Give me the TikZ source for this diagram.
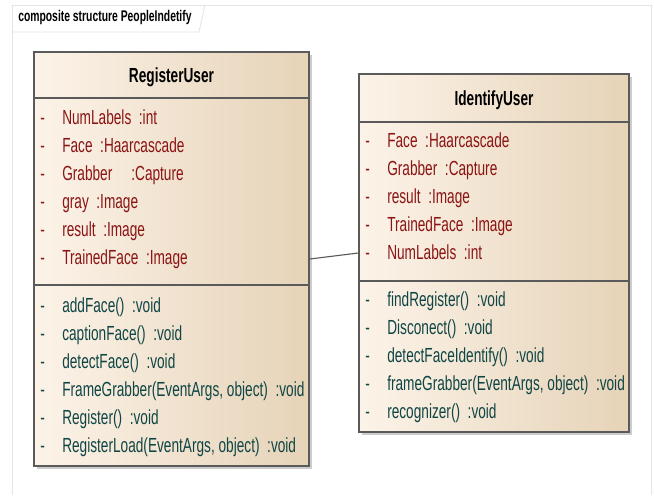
\documentclass[tikz,border=0pt]{standalone}
\usepackage{fontspec}
\setmainfont{Liberation Sans}[FakeStretch=0.67]
\usetikzlibrary{positioning,shadows}

\definecolor{attrred}{HTML}{8B1414}
\definecolor{methteal}{HTML}{0F4545}
\definecolor{fillleft}{HTML}{FCF3E8}
\definecolor{fillright}{HTML}{E6D3B8}
\definecolor{boxline}{HTML}{5A5A5A}
\definecolor{framegray}{HTML}{E4E4E4}

\tikzstyle{frameline} = [draw=framegray, line width=0.6pt]
\tikzstyle{frametitle} = [anchor=west, inner sep=0pt, font=\bfseries\fontsize{11}{13}\selectfont]
\tikzstyle{classbox} = [draw=boxline, line width=1pt, rectangle, left color=fillleft, right color=fillright, drop shadow={shadow xshift=2pt, shadow yshift=-2pt, opacity=0.4}]
\tikzstyle{classname} = [inner sep=0pt, font=\bfseries\fontsize{14.5}{17}\selectfont]
\tikzstyle{sepline} = [draw=boxline, line width=1pt]
\tikzstyle{attr} = [inner sep=0pt, text height=1.6ex, text depth=0.45ex, text=attrred, font=\fontsize{14.5}{17}\selectfont]
\tikzstyle{meth} = [attr, text=methteal]
\tikzstyle{link} = [draw=boxline, line width=0.8pt]

\newcommand{\priv}{\makebox[0.55cm][l]{-}}

\begin{document}
\begin{tikzpicture}
  \useasboundingbox (0,0) rectangle (16.35,-12.375);
  % frame
  \draw[frameline] (0.3,-12.375) -- (0.3,-0.125) -- (16.275,-0.125) -- (16.275,-12.375);
  \draw[frameline] (0.3,-0.8) -- (4.975,-0.8) -- (5.125,-0.125);
  \node[frametitle] (frm) at (0.45,-0.425) {composite structure PeopleIndetify};

  % RegisterUser
  \node[classbox, minimum width=6.875cm, minimum height=10.35cm] (reg) at (4.2875,-6.475) {};
  \node[classname] (regname) at (4.2875,-1.925) {RegisterUser};
  \draw[sepline] (reg.west |- 0,-2.45) -- (reg.east |- 0,-2.45);
  \draw[sepline] (reg.west |- 0,-7.125) -- (reg.east |- 0,-7.125);

  \node[attr, anchor=west] (ra1) at (1.0,-3.0) {\priv NumLabels~~:int};
  \node[attr, below=0.7cm of ra1.west, anchor=west] (ra2) {\priv Face~~:Haarcascade};
  \node[attr, below=0.7cm of ra2.west, anchor=west] (ra3) {\priv Grabber~~~~~:Capture};
  \node[attr, below=0.7cm of ra3.west, anchor=west] (ra4) {\priv gray~~:Image};
  \node[attr, below=0.7cm of ra4.west, anchor=west] (ra5) {\priv result~~:Image};
  \node[attr, below=0.7cm of ra5.west, anchor=west] (ra6) {\priv TrainedFace~~:Image};

  \node[meth, anchor=west] (rm1) at (1.0,-7.7) {\priv addFace()~~:void};
  \node[meth, below=0.7cm of rm1.west, anchor=west] (rm2) {\priv captionFace()~~:void};
  \node[meth, below=0.7cm of rm2.west, anchor=west] (rm3) {\priv detectFace()~~:void};
  \node[meth, below=0.7cm of rm3.west, anchor=west] (rm4) {\priv FrameGrabber(EventArgs, object)~~:void};
  \node[meth, below=0.7cm of rm4.west, anchor=west] (rm5) {\priv Register()~~:void};
  \node[meth, below=0.7cm of rm5.west, anchor=west] (rm6) {\priv RegisterLoad(EventArgs, object)~~:void};

  % IdentifyUser
  \node[classbox, minimum width=6.75cm, minimum height=8.95cm] (ident) at (12.35,-6.325) {};
  \node[classname] (identname) at (12.35,-2.5) {IdentifyUser};
  \draw[sepline] (ident.west |- 0,-3.05) -- (ident.east |- 0,-3.05);
  \draw[sepline] (ident.west |- 0,-7.025) -- (ident.east |- 0,-7.025);

  \node[attr, anchor=west] (ia1) at (9.125,-3.575) {\priv Face~~:Haarcascade};
  \node[attr, below=0.7cm of ia1.west, anchor=west] (ia2) {\priv Grabber~~:Capture};
  \node[attr, below=0.7cm of ia2.west, anchor=west] (ia3) {\priv result~~:Image};
  \node[attr, below=0.7cm of ia3.west, anchor=west] (ia4) {\priv TrainedFace~~:Image};
  \node[attr, below=0.7cm of ia4.west, anchor=west] (ia5) {\priv NumLabels~~:int};

  \node[meth, anchor=west] (im1) at (9.125,-7.55) {\priv findRegister()~~:void};
  \node[meth, below=0.7cm of im1.west, anchor=west] (im2) {\priv Disconect()~~:void};
  \node[meth, below=0.7cm of im2.west, anchor=west] (im3) {\priv detectFaceIdentify()~~:void};
  \node[meth, below=0.7cm of im3.west, anchor=west] (im4) {\priv frameGrabber(EventArgs, object)~~:void};
  \node[meth, below=0.7cm of im4.west, anchor=west] (im5) {\priv recognizer()~~:void};

  \draw[link] (reg.east) -- (ident.west);
\end{tikzpicture}
\end{document}
